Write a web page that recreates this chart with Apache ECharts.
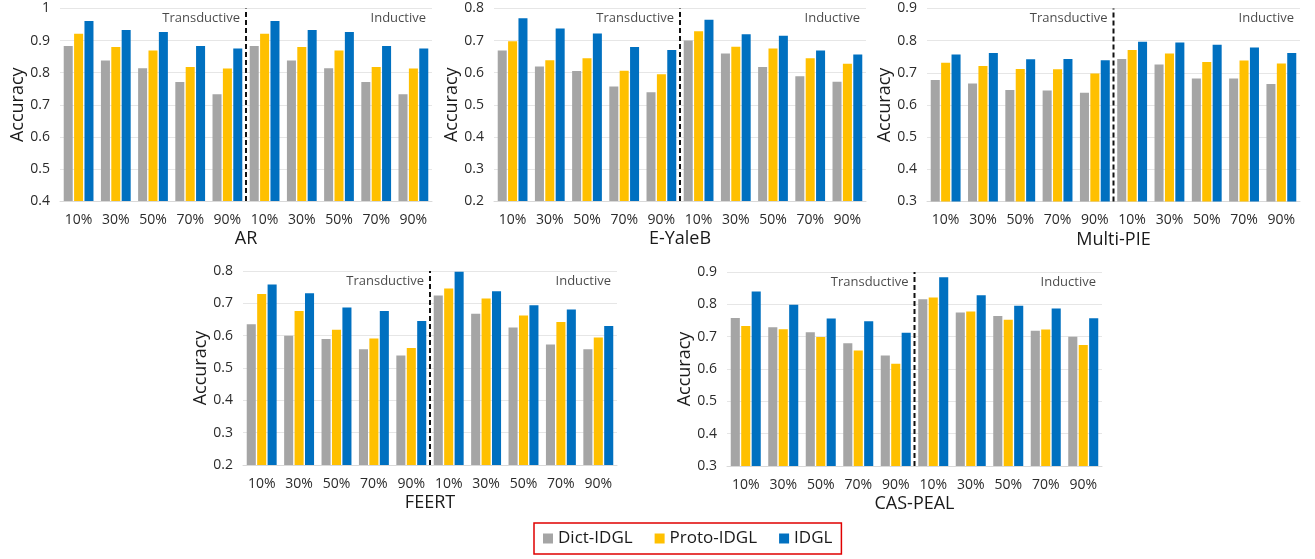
<!DOCTYPE html>
<html>
<head>
<meta charset="utf-8">
<script src="https://cdn.jsdelivr.net/npm/echarts@6/dist/echarts.min.js"></script>
<style>
  html, body { margin: 0; padding: 0; background: #fff; }
  #chart { width: 1315px; height: 559px; }
</style>
</head>
<body>
<div id="chart"></div>
<script>
// categories: label ratio, first five transductive, last five inductive
const percents = ['10%', '30%', '50%', '70%', '90%'];
const categories = percents.concat(percents);
const methods = ['Dict-IDGL', 'Proto-IDGL', 'IDGL'];
const datasets = ['AR', 'E-YaleB', 'Multi-PIE', 'FEERT', 'CAS-PEAL'];
const settings = ['Transductive', 'Inductive'];

// y axis ranges per dataset
const yMin = [0.4, 0.2, 0.3, 0.2, 0.3];
const yMax = [1.0, 0.8, 0.9, 0.8, 0.9];

// AR
const arDict  = [0.883, 0.838, 0.814, 0.771, 0.733, 0.883, 0.838, 0.814, 0.771, 0.733];
const arProto = [0.921, 0.880, 0.869, 0.818, 0.813, 0.921, 0.880, 0.869, 0.818, 0.813];
const arIdgl  = [0.961, 0.933, 0.927, 0.883, 0.875, 0.961, 0.933, 0.927, 0.883, 0.875];

// E-YaleB
const ybDict  = [0.669, 0.619, 0.605, 0.557, 0.539, 0.700, 0.660, 0.618, 0.589, 0.572];
const ybProto = [0.698, 0.639, 0.645, 0.606, 0.595, 0.729, 0.681, 0.675, 0.645, 0.628];
const ybIdgl  = [0.770, 0.738, 0.722, 0.680, 0.671, 0.765, 0.720, 0.715, 0.669, 0.657];

// Multi-PIE
const mpDict  = [0.678, 0.667, 0.647, 0.645, 0.638, 0.743, 0.726, 0.682, 0.682, 0.665];
const mpProto = [0.731, 0.721, 0.712, 0.711, 0.698, 0.771, 0.760, 0.734, 0.738, 0.729];
const mpIdgl  = [0.757, 0.762, 0.742, 0.743, 0.739, 0.797, 0.794, 0.787, 0.779, 0.762];

// FEERT
const feDict  = [0.635, 0.600, 0.590, 0.558, 0.539, 0.724, 0.668, 0.625, 0.573, 0.558];
const feProto = [0.729, 0.676, 0.618, 0.591, 0.562, 0.746, 0.715, 0.662, 0.642, 0.594];
const feIdgl  = [0.758, 0.731, 0.687, 0.676, 0.645, 0.798, 0.737, 0.694, 0.681, 0.630];

// CAS-PEAL
const cpDict  = [0.758, 0.729, 0.714, 0.680, 0.642, 0.816, 0.775, 0.764, 0.718, 0.700];
const cpProto = [0.733, 0.723, 0.699, 0.657, 0.616, 0.821, 0.778, 0.752, 0.722, 0.674];
const cpIdgl  = [0.840, 0.799, 0.756, 0.748, 0.712, 0.884, 0.828, 0.796, 0.787, 0.757];

const values = [
  [arDict, arProto, arIdgl],
  [ybDict, ybProto, ybIdgl],
  [mpDict, mpProto, mpIdgl],
  [feDict, feProto, feIdgl],
  [cpDict, cpProto, cpIdgl]
];

const colors = ['#A5A5A5', '#FFC000', '#0070C0'];
const font = 'Open Sans';
const textColor = '#2b2b2b';

const grids = [
  { left: 60,  top: 8.5, width: 372, height: 192.5 },
  { left: 494, top: 8.5, width: 372, height: 192.5 },
  { left: 927, top: 8.5, width: 373, height: 193 },
  { left: 243, top: 271, width: 374, height: 194 },
  { left: 727, top: 272, width: 375, height: 194 }
];

const xAxis = [], yAxis = [], series = [];
datasets.forEach((name, i) => {
  xAxis.push({
    type: 'category', gridIndex: i, data: categories,
    name: name, nameLocation: 'middle', nameGap: 29,
    nameTextStyle: { fontFamily: font, fontSize: 18, color: '#1a1a1a' },
    axisLine: { lineStyle: { color: '#D9D9D9' } },
    axisTick: { show: false },
    axisLabel: { interval: 0, margin: 12, fontFamily: font, fontSize: 14, color: textColor }
  });
  // hidden continuous axis used to place the split line and the setting labels
  xAxis.push({ type: 'value', gridIndex: i, min: 0, max: 10, show: false });
  yAxis.push({
    type: 'value', gridIndex: i, min: yMin[i], max: yMax[i], interval: 0.1,
    name: 'Accuracy', nameLocation: 'middle', nameGap: 33,
    nameTextStyle: { fontFamily: font, fontSize: 18, color: '#1a1a1a' },
    axisLine: { show: false }, axisTick: { show: false },
    splitLine: { lineStyle: { color: '#E6E6E6' } },
    axisLabel: { margin: 10, fontFamily: font, fontSize: 14, color: textColor }
  });
  methods.forEach((m, k) => {
    series.push({
      type: 'bar', name: m, xAxisIndex: 2 * i, yAxisIndex: i,
      data: values[i][k], barCategoryGap: '20%', barGap: '15%',
      itemStyle: { color: colors[k] }, animation: false
    });
  });
  series.push({
    type: 'line', xAxisIndex: 2 * i + 1, yAxisIndex: i,
    data: [[5, yMin[i]], [5, yMax[i]]], symbol: 'none', silent: true,
    lineStyle: { color: '#111', width: 2, type: [5, 3] }, animation: false
  });
  series.push({
    type: 'scatter', xAxisIndex: 2 * i + 1, yAxisIndex: i, symbolSize: 0,
    data: [[5, yMax[i]], [10, yMax[i]]], silent: true, animation: false,
    label: {
      show: true, position: 'left', distance: 6, offset: [0, 10],
      formatter: p => settings[p.dataIndex],
      fontFamily: font, fontSize: 13, color: '#1a1a1a'
    }
  });
});

const chart = echarts.init(document.getElementById('chart'), null, { renderer: 'canvas' });
chart.setOption({
  backgroundColor: '#fff',
  animation: false,
  grid: grids,
  xAxis: xAxis,
  yAxis: yAxis,
  legend: {
    data: methods, left: 534, top: 523,
    icon: 'rect', itemWidth: 10, itemHeight: 10, itemGap: 22,
    padding: [7, 9], borderColor: '#E00000', borderWidth: 1.5,
    textStyle: { fontFamily: font, fontSize: 17, color: '#1a1a1a' }
  },
  series: series
});
</script>
</body>
</html>
